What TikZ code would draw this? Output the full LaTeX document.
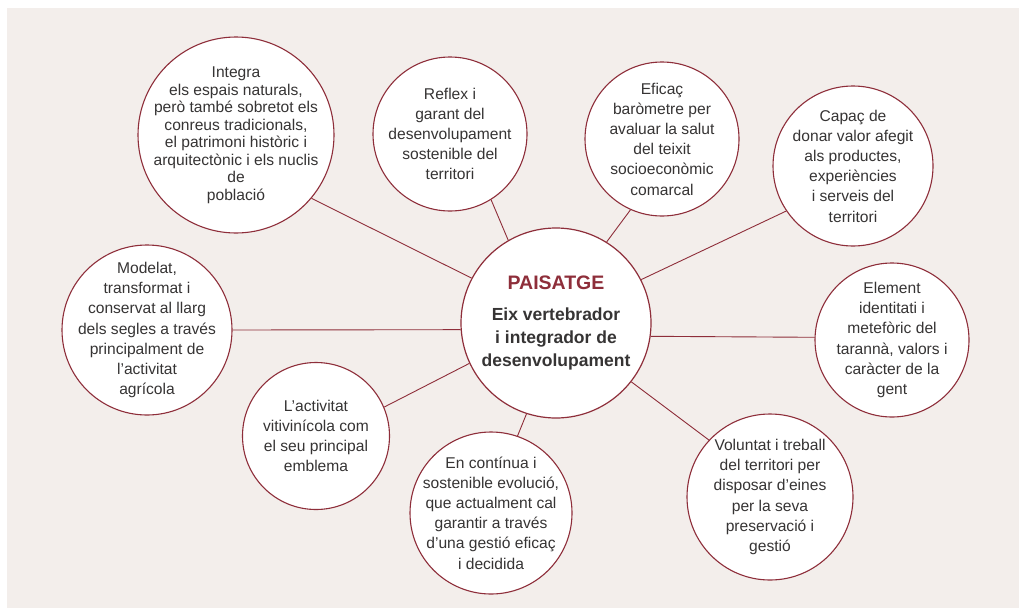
\documentclass[tikz,border=0pt]{standalone}
\usepackage{fontspec}
\setmainfont{Liberation Sans}
\definecolor{ink}{HTML}{363434}
\definecolor{wine}{HTML}{8E2E3A}
\definecolor{paper}{HTML}{F3EEEB}
\tikzset{
  bub/.style={circle,draw=wine,fill=white,line width=1.1pt,inner sep=0pt},
  txt/.style={align=center,text=ink,inner sep=0pt,font=\fontsize{15.6}{20.2}\selectfont},
  hubtxt/.style={txt,font=\fontsize{17.5}{23.3}\selectfont\bfseries},
  lnk/.style={draw=wine,line width=0.9pt},
}
\begin{document}
\begin{tikzpicture}[x=1pt,y=-1pt]
  \useasboundingbox (0,0) rectangle (1019,608);
  \fill[paper] (7,8) rectangle (1019,608);
  % centre
  \node[bub,line width=1.2pt,minimum size=190pt] (pais) at (556,323) {};
  \node[hubtxt] at (pais) {{\color{wine}\fontsize{19.5}{24}\selectfont PAISATGE}\\[8pt]Eix vertebrador\\i integrador de\\desenvolupament};
  % satellites
  \node[bub,minimum size=196pt] (integra) at (236,135) {};
  \node[txt,font=\fontsize{15.6}{17.5}\selectfont] at (integra) {Integra\\els espais naturals,\\però també sobretot els\\conreus tradicionals,\\el patrimoni històric i\\arquitectònic i els nuclis\\de\\població};
  \node[bub,minimum size=154pt] (reflex) at (450,134) {};
  \node[txt] at (reflex) {Reflex i\\garant del\\desenvolupament\\sostenible del\\territori};
  \node[bub,minimum size=154pt] (eficac) at (662,139) {};
  \node[txt] at (eficac) {Eficaç\\baròmetre per\\avaluar la salut\\del teixit\\socioeconòmic\\comarcal};
  \node[bub,minimum size=160pt] (capac) at (853,166) {};
  \node[txt] at (capac) {Capaç de\\donar valor afegit\\als productes,\\experiències\\i serveis del\\territori};
  \node[bub,minimum size=154pt] (element) at (892,340) {};
  \node[txt] at (element) {Element\\identitati i\\metefòric del\\tarannà, valors i\\caràcter de la\\gent};
  \node[bub,minimum size=166pt] (voluntat) at (770,497) {};
  \node[txt] at (voluntat) {Voluntat i treball\\del territori per\\disposar d’eines\\per la seva\\preservació i\\gestió};
  \node[bub,minimum size=162pt] (continua) at (491,513) {};
  \node[txt] at (continua) {En contínua i\\sostenible evolució,\\que actualment cal\\garantir a través\\d’una gestió eficaç\\i decidida};
  \node[bub,minimum size=147pt] (activitat) at (316,436) {};
  \node[txt] at (activitat) {L’activitat\\vitivinícola com\\el seu principal\\emblema};
  \node[bub,minimum size=170pt] (modelat) at (147,330) {};
  \node[txt] at (modelat) {Modelat,\\transformat i\\conservat al llarg\\dels segles a través\\principalment de\\l’activitat\\agrícola};
  % spokes
  \draw[lnk] (pais.152) -- (integra.-40);
  \draw[lnk] (pais.120) -- (reflex.-58);
  \draw[lnk] (pais.58) -- (eficac.-114);
  \draw[lnk] (pais.27) -- (capac.-146);
  \draw[lnk] (pais.-8) -- (element.178);
  \draw[lnk] (pais.-38) -- (voluntat.137);
  \draw[lnk] (pais.-108) -- (continua.71);
  \draw[lnk] (pais.-155) -- (activitat.23);
  \draw[lnk] (pais.-176) -- (modelat.0);
\end{tikzpicture}
\end{document}
